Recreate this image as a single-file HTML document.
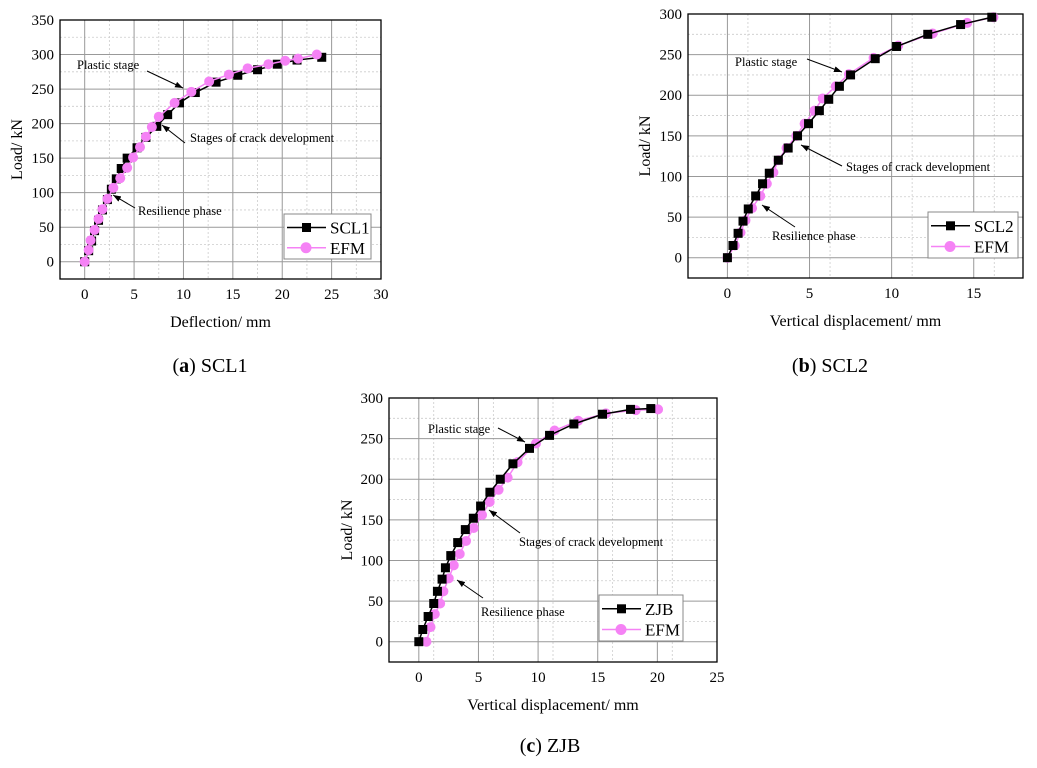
<!DOCTYPE html>
<html><head><meta charset="utf-8"><style>
body{margin:0;background:#fff;}
svg{display:block;font-family:"Liberation Serif",serif;}
</style></head><body>
<svg id="fig" width="1037" height="768"></svg>
<script>
// ---- data ----
const scl1X=[0,0.4,0.7,1,1.4,1.8,2.3,2.7,3.2,3.7,4.3,5.3,6.2,7.3,8.4,9.6,11.2,13.3,15.5,17.5,19.5,21.5,24];
const scl1Y=[0,16,30,45,60,75,90,105,120,135,150,165,180,196,213,230,245,260,270,278,286,292,296];
const efmAX=[0,0.4,0.6,1,1.4,1.8,2.3,2.9,3.6,4.3,4.9,5.6,6.2,6.8,7.5,9.1,10.8,12.6,14.6,16.5,18.6,20.3,21.6,23.5];
const efmAY=[0,17,31,46,62,76,91,107,121,136,151,166,181,195,210,230,246,261,271,280,286,291,294,300];
const scl2X=[0,0.34,0.65,0.95,1.27,1.72,2.14,2.55,3.1,3.7,4.27,4.94,5.6,6.17,6.82,7.5,9.0,10.3,12.2,14.2,16.1];
const scl2Y=[0,15,30,45,60,76,91,104,120,135,150,165,181,195,211,225,245,260,275,287,296];
const efmBX=[0,0.45,0.8,1.1,1.5,2.0,2.4,2.8,3.1,3.6,4.2,4.7,5.3,5.8,6.6,7.4,8.9,10.4,12.5,14.6,16.2];
const efmBY=[0,15,31,46,61,76,91,105,120,135,150,165,181,196,211,226,246,261,276,289,296];
const zjbX=[0,0.33,0.78,1.25,1.56,1.95,2.23,2.68,3.26,3.9,4.57,5.18,5.96,6.83,7.89,9.28,10.96,13.0,15.4,17.75,19.45];
const zjbY=[0,15,31,47,62,77,91,106,122,138,152,167,184,200,219,238,254,268,280,286,287];
const efmCX=[0.64,0.98,1.34,1.79,2.06,2.51,2.93,3.43,3.96,4.6,5.3,5.94,6.69,7.45,8.28,9.82,11.38,13.36,15.68,18.19,20.06];
const efmCY=[0,18,34,47,62,78,94,108,124,140,156,172,187,202,221,244,260,272,281,285,286];
const xTicksA=[0,5,10,15,20,25,30], yTicksA=[0,50,100,150,200,250,300,350];
const xTicksB=[0,5,10,15], yTicksB=[0,50,100,150,200,250,300];
const xTicksC=[0,5,10,15,20,25], yTicksC=[0,50,100,150,200,250,300];

const NS="http://www.w3.org/2000/svg";
const svg=document.getElementById('fig');
function mk(tag,attrs,parent){const e=document.createElementNS(NS,tag);for(const k in attrs)e.setAttribute(k,attrs[k]);(parent||svg).appendChild(e);return e;}
const defs=mk('defs',{});
const m=mk('marker',{id:'ah',markerWidth:8,markerHeight:6,refX:8,refY:3,orient:'auto'},defs);
mk('path',{d:'M0,0 L8,3 L0,6 z',fill:'#000'},m);

function chart(o){
  const g=mk('g',{});
  
  
  const sx=v=>o.L+(v-o.x0)/(o.x1-o.x0)*(o.R-o.L);
  const sy=v=>o.B-(v-o.y0)/(o.y1-o.y0)*(o.B-o.T);
  for(let i=0;i<o.xt.length;i++){const v=o.xt[i]+o.xs/2;if(sx(v)<o.R){const l=mk('line',{x1:sx(v),x2:sx(v),y1:o.T,y2:o.B,stroke:'#ccc','stroke-dasharray':'2,2','stroke-width':0.8},g);}}
  for(let i=0;i<o.yt.length;i++){const v=o.yt[i]+o.ys/2;if(sy(v)>o.T){const l=mk('line',{x1:o.L,x2:o.R,y1:sy(v),y2:sy(v),stroke:'#ccc','stroke-dasharray':'2,2','stroke-width':0.8},g);}}
  o.xt.forEach(v=>{
    const l=mk('line',{x1:sx(v),x2:sx(v),y1:o.T,y2:o.B,stroke:'#999','stroke-width':1},g);
    
    
    const t=mk('text',{x:sx(v),y:o.B+20,'text-anchor':'middle','font-size':15},g);t.textContent=v;
    
    
  });
  o.yt.forEach(v=>{
    const l=mk('line',{x1:o.L,x2:o.R,y1:sy(v),y2:sy(v),stroke:'#999','stroke-width':1},g);
    
    
    const t=mk('text',{x:o.L-6,y:sy(v)+5,'text-anchor':'end','font-size':15},g);t.textContent=v;
    
    
  });
  const fr=mk('rect',{x:o.L,y:o.T,width:o.R-o.L,height:o.B-o.T,fill:'none',stroke:'#000','stroke-width':1.3},g);
  
  
  function series(xs,ys,color,shape,nm){
    const p=mk('polyline',{points:xs.map((x,i)=>sx(x)+','+sy(ys[i])).join(' '),fill:'none',stroke:color,'stroke-width':1.5},g);
    
    
    xs.forEach((x,i)=>{
      let e;
      if(shape==='sq')e=mk('rect',{x:sx(x)-4.5,y:sy(ys[i])-4.5,width:9,height:9,fill:color},g);
      else e=mk('circle',{cx:sx(x),cy:sy(ys[i]),r:5,fill:color},g);
      
      
    });
  }
  if(o.efmTop){
    series(o.sx,o.sy,'#000','sq',o.sname.toLowerCase());
    series(o.ex,o.ey,'#f582f5','ci','efm');
  } else {
    series(o.ex,o.ey,'#f582f5','ci','efm');
    series(o.sx,o.sy,'#000','sq',o.sname.toLowerCase());
  }
  const xt=mk('text',{x:(o.L+o.R)/2,y:o.B+48,'text-anchor':'middle','font-size':16},g);xt.textContent=o.xlab;
  
  
  const cy=(o.T+o.B)/2;
  const yt=mk('text',{x:o.ytx,y:cy,'text-anchor':'middle','font-size':16,transform:`rotate(-90 ${o.ytx} ${cy})`},g);yt.textContent='Load/ kN';
  
  
  o.ann.forEach(a=>{
    const t=mk('text',{x:a[0],y:a[1],'font-size':12.5},g);t.textContent=a[2];
    
    
    const l=mk('line',{x1:a[3],y1:a[4],x2:a[5],y2:a[6],stroke:'#000','stroke-width':1,'marker-end':'url(#ah)'},g);
    
    
  });
  const [lx,ly,lx2,ly2]=o.leg;
  const lg=mk('g',{},g);
  
  
  mk('rect',{x:lx,y:ly,width:lx2-lx,height:ly2-ly,fill:'#fff',stroke:'#888'},lg);
  const r1=ly+(ly2-ly)*0.3, r2=ly+(ly2-ly)*0.75;
  mk('line',{x1:lx+3,x2:lx+42,y1:r1,y2:r1,stroke:'#000','stroke-width':1.5},lg);
  mk('rect',{x:lx+18,y:r1-4.5,width:9,height:9,fill:'#000'},lg);
  const t1=mk('text',{x:lx+46,y:r1+6,'font-size':17},lg);t1.textContent=o.sname;
  
  
  mk('line',{x1:lx+3,x2:lx+42,y1:r2,y2:r2,stroke:'#f582f5','stroke-width':1.5},lg);
  mk('circle',{cx:lx+22,cy:r2,r:5.5,fill:'#f582f5'},lg);
  const t2=mk('text',{x:lx+46,y:r2+6,'font-size':17},lg);t2.textContent='EFM';
  
  
  const c=mk('text',{x:o.cap[0],y:o.cap[1],'text-anchor':'middle','font-size':20},g);
  
  
  const b=mk('tspan',{},c);b.textContent='(';
  const bb=mk('tspan',{'font-weight':'bold'},c);bb.textContent=o.cap[2];
  const rest=mk('tspan',{},c);rest.textContent=') '+o.sname;
}

chart({name:'chart-scl1',efmTop:true,L:60,R:381,T:20,B:279,x0:-2.5,x1:30,y0:-25,y1:350,xt:xTicksA,yt:yTicksA,xs:5,ys:50,
  sx:scl1X,sy:scl1Y,ex:efmAX,ey:efmAY,sname:'SCL1',xlab:'Deflection/ mm',ytx:22,
  ann:[[77,69,'Plastic stage',147,71,183,88],[190,142,'Stages of crack development',185,143,162,125],[138,215,'Resilience phase',135,208,113,195]],
  leg:[284,214,371,259],cap:[210,372,'a']});
chart({name:'chart-scl2',efmTop:false,L:688,R:1023,T:14,B:278,x0:-2.4,x1:18,y0:-25,y1:300,xt:xTicksB,yt:yTicksB,xs:2.5,ys:50,
  sx:scl2X,sy:scl2Y,ex:efmBX,ey:efmBY,sname:'SCL2',xlab:'Vertical displacement/ mm',ytx:650,
  ann:[[735,66,'Plastic stage',807,59,842,72],[846,171,'Stages of crack development',842,166,801,145],[772,240,'Resilience phase',795,227,762,205]],
  leg:[928,212,1018,258],cap:[830,372,'b']});
chart({name:'chart-zjb',efmTop:false,L:389,R:717,T:398,B:662,x0:-2.5,x1:25,y0:-25,y1:300,xt:xTicksC,yt:yTicksC,xs:2.5,ys:50,
  sx:zjbX,sy:zjbY,ex:efmCX,ey:efmCY,sname:'ZJB',xlab:'Vertical displacement/ mm',ytx:352,
  ann:[[428,433,'Plastic stage',498,428,525,442],[519,546,'Stages of crack development',520,533,489,510],[481,616,'Resilience phase',483,598,457,580]],
  leg:[599,595,683,641],cap:[550,752,'c']});
</script>
</body></html>
